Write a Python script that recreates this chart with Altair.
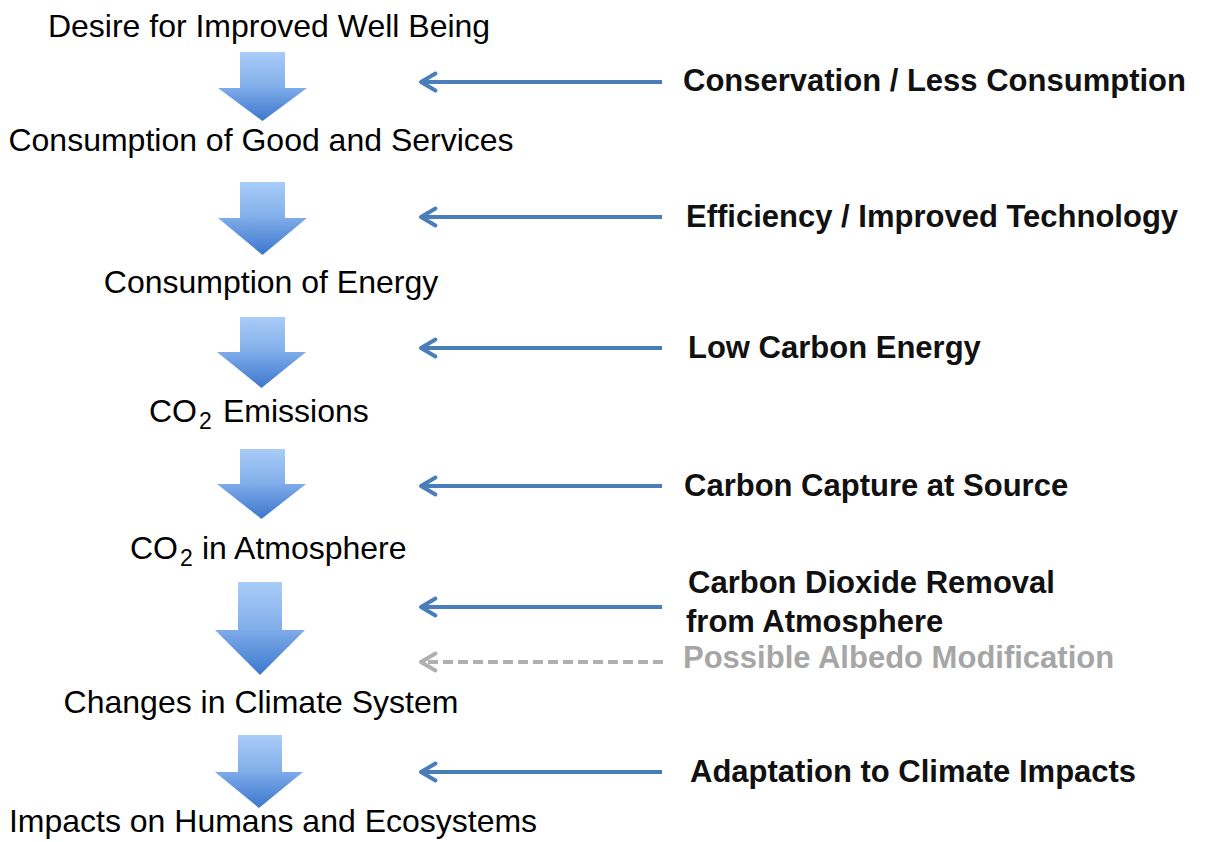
import altair as alt
import pandas as pd

# ---------------- data ----------------
# left-hand causal chain labels (centered)
chain_labels = ["Desire for Improved Well Being", "Consumption of Good and Services",
                "Consumption of Energy", "Changes in Climate System",
                "Impacts on Humans and Ecosystems"]
chain_label_x = [269, 261, 271, 261, 273]
chain_label_y = [37, 151, 293, 713, 832]

# CO2 labels (with subscript)
co2_prefix = ["CO", "CO"]
co2_sub = ["2", "2"]
co2_rest = ["Emissions", "in Atmosphere"]
co2_prefix_right_x = [197, 178]
co2_sub_x = [199, 180]
co2_rest_x = [223, 202]
co2_y = [422, 559]

# block arrows of the chain
arrow_ids = ["a1", "a2", "a3", "a4", "a5", "a6"]
shaft_left = [240, 240, 240, 240, 238, 238]
shaft_right = [285, 285, 285, 285, 282, 282]
head_left = [218, 218, 217, 217, 215, 215]
head_right = [307, 307, 306, 306, 305, 303]
arrow_top = [52, 182, 317, 449, 582, 735]
arrow_shoulder = [88, 218, 352, 484, 630, 772]
arrow_tip = [121, 255, 388, 519, 675, 808]

# lever arrows (right to left)
lever_y = [82, 217, 348, 486, 607, 662, 772]
lever_from_x = [662, 662, 662, 662, 662, 663, 662]
lever_to_x = [421, 421, 421, 421, 421, 421, 421]
lever_dashed = [False, False, False, False, False, True, False]

# lever labels
lever_labels = ["Conservation / Less Consumption", "Efficiency / Improved Technology",
                "Low Carbon Energy", "Carbon Capture at Source",
                "Carbon Dioxide Removal", "from Atmosphere",
                "Possible Albedo Modification", "Adaptation to Climate Impacts"]
lever_label_x = [683, 686, 688, 684, 688, 686, 683, 690]
lever_label_y = [91, 227, 358, 496, 593, 632, 668, 782]
lever_label_color = ["#111111"] * 6 + ["#a6a6a6"] + ["#111111"]

# ---------------- tables ----------------
chain_df = pd.DataFrame({"label": chain_labels, "x": chain_label_x, "y": chain_label_y})
co2_df = pd.DataFrame({"prefix": co2_prefix, "sub": co2_sub, "rest": co2_rest,
                       "px": co2_prefix_right_x, "sx": co2_sub_x, "rx": co2_rest_x,
                       "y": co2_y})
shaft_df = pd.DataFrame({"id": arrow_ids, "x": shaft_left, "x2": shaft_right,
                         "y": arrow_top, "y2": [s + 1 for s in arrow_shoulder]})
head_rows = []
for i, aid in enumerate(arrow_ids):
    mid = (head_left[i] + head_right[i]) / 2
    head_rows.append({"id": aid, "x": head_left[i], "y": arrow_shoulder[i], "y2": arrow_shoulder[i]})
    head_rows.append({"id": aid, "x": mid, "y": arrow_shoulder[i], "y2": arrow_tip[i]})
    head_rows.append({"id": aid, "x": head_right[i], "y": arrow_shoulder[i], "y2": arrow_shoulder[i]})
head_df = pd.DataFrame(head_rows)

lever_df = pd.DataFrame({"y": lever_y, "x": lever_from_x, "x2": lever_to_x, "dashed": lever_dashed})
solid_df = lever_df[~lever_df["dashed"]]
dashed_df = lever_df[lever_df["dashed"]]
lever_label_df = pd.DataFrame({"label": lever_labels, "x": lever_label_x,
                               "y": lever_label_y, "c": lever_label_color})

# ---------------- scales ----------------
W, H = 1195, 834
xs = alt.Scale(domain=[8, 8 + W], nice=False, zero=False)
ys = alt.Scale(domain=[8, 8 + H], nice=False, zero=False, reverse=True)
X = lambda f: alt.X(f, type="quantitative", scale=xs, axis=None)
Y = lambda f: alt.Y(f, type="quantitative", scale=ys, axis=None)

FONT = "Liberation Sans"
BLUE = "#4a7ebb"
GREY = "#b0b0b0"

shaft_grad = alt.Gradient(gradient="linear", x1=0, x2=0, y1=0, y2=1,
                          stops=[alt.GradientStop(color="#a9ccf8", offset=0),
                                 alt.GradientStop(color="#80ade9", offset=1)])
head_grad = alt.Gradient(gradient="linear", x1=0, x2=0, y1=0, y2=1,
                         stops=[alt.GradientStop(color="#7eabe9", offset=0),
                                alt.GradientStop(color="#3c77cd", offset=1)])

shafts = alt.Chart(shaft_df).mark_rect(color=shaft_grad).encode(
    x=X("x"), x2="x2", y=Y("y"), y2="y2")

heads = alt.Chart(head_df).mark_area(color=head_grad, interpolate="linear").encode(
    x=X("x"), y=Y("y"), y2="y2", detail="id:N")

chain_text = alt.Chart(chain_df).mark_text(
    font=FONT, fontSize=32, align="center", baseline="alphabetic", color="#000000").encode(
    x=X("x"), y=Y("y"), text="label:N")

co2_prefix_text = alt.Chart(co2_df).mark_text(
    font=FONT, fontSize=32, align="right", baseline="alphabetic", color="#000000").encode(
    x=X("px"), y=Y("y"), text="prefix:N")
co2_sub_text = alt.Chart(co2_df).mark_text(
    font=FONT, fontSize=23, align="left", baseline="alphabetic", dy=7, color="#000000").encode(
    x=X("sx"), y=Y("y"), text="sub:N")
co2_rest_text = alt.Chart(co2_df).mark_text(
    font=FONT, fontSize=32, align="left", baseline="alphabetic", color="#000000").encode(
    x=X("rx"), y=Y("y"), text="rest:N")

solid_lines = alt.Chart(solid_df).mark_rule(color=BLUE, strokeWidth=4).encode(
    x=X("x"), x2="x2", y=Y("y"))
dashed_lines = alt.Chart(dashed_df).mark_rule(color=GREY, strokeWidth=4, strokeDash=[10, 5]).encode(
    x=X("x"), x2="x2", y=Y("y"))

chevron = "M1.7,-1 L0,0 L1.7,1"
solid_heads = alt.Chart(solid_df).mark_point(
    shape=chevron, size=289, filled=False, color=BLUE, strokeWidth=4,
    strokeCap="round", strokeJoin="round", opacity=1).encode(
    x=X("x2"), y=Y("y"))
dashed_heads = alt.Chart(dashed_df).mark_point(
    shape=chevron, size=289, filled=False, color=GREY, strokeWidth=4,
    strokeCap="round", strokeJoin="round", opacity=1).encode(
    x=X("x2"), y=Y("y"))

lever_text = alt.Chart(lever_label_df).mark_text(
    font=FONT, fontSize=31, fontWeight="bold", align="left", baseline="alphabetic").encode(
    x=X("x"), y=Y("y"), text="label:N", color=alt.Color("c:N", scale=None))

chart = alt.layer(
    shafts, heads, solid_lines, dashed_lines, solid_heads, dashed_heads,
    chain_text, co2_prefix_text, co2_sub_text, co2_rest_text, lever_text
).properties(
    width=W, height=H, padding=0, autosize=alt.AutoSizeParams(type="none"),
    background="#ffffff"
).configure_view(stroke=None)

chart.save("out.html", embed_options={"renderer": "svg", "actions": False})
